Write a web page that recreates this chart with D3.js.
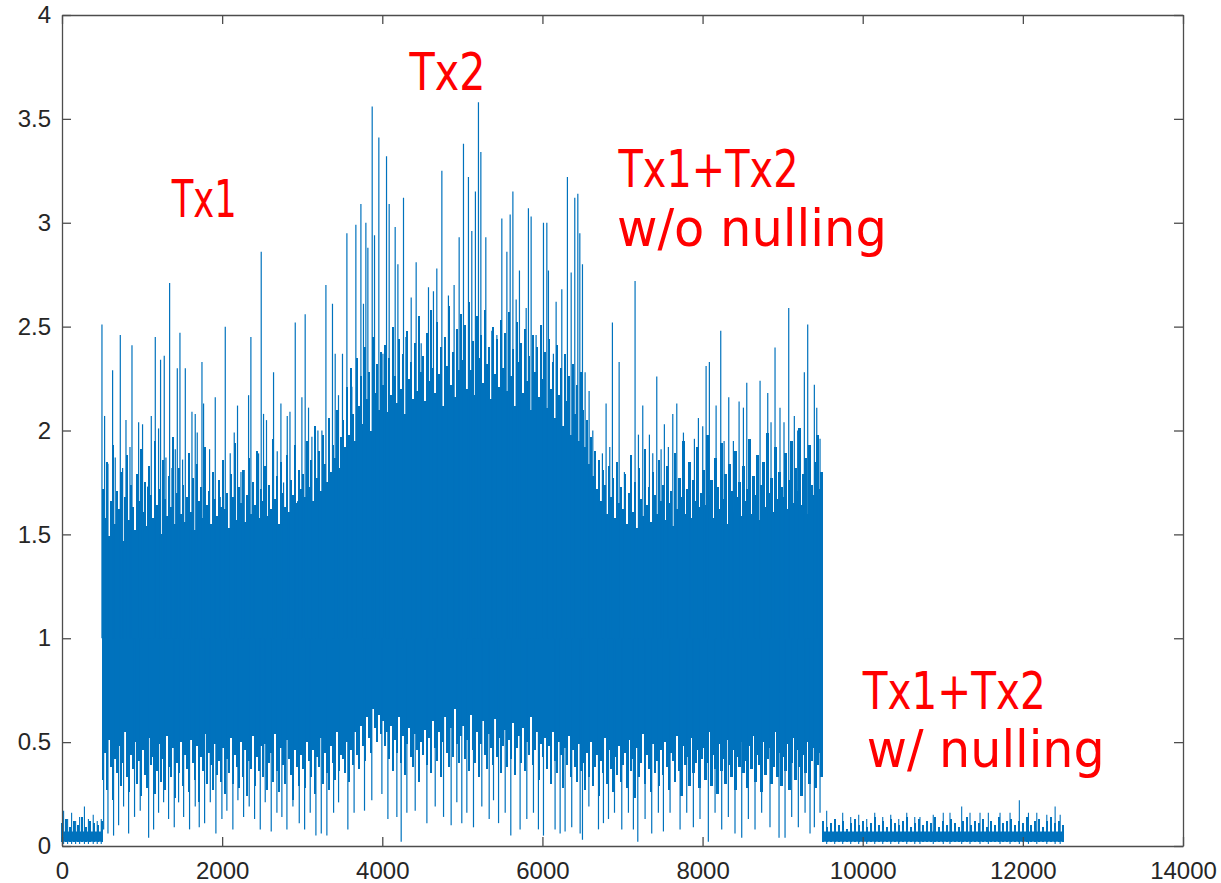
<!DOCTYPE html>
<html>
<head>
<meta charset="utf-8">
<script src="https://cdn.jsdelivr.net/npm/d3@7"></script>
<style>
  body { margin: 0; background: #fff; }
  svg { display: block; }
</style>
</head>
<body>
<div id="chart"></div>
<script>
"use strict";

// tick labels
var xTicks = [0, 2000, 4000, 6000, 8000, 10000, 12000, 14000];
var yTicks = [0, 0.5, 1, 1.5, 2, 2.5, 3, 3.5, 4];

// solid middle of the loud part (sample index, upper / lower edge)
var coreSamples = [500, 1000, 1500, 2000, 2500, 3000, 3500, 4000, 4500, 5000, 5500, 6000, 6500, 7000, 7500, 8000, 8500, 9000, 9500];
var coreTop = [1.35, 1.4, 1.4, 1.35, 1.4, 1.4, 1.5, 1.75, 1.85, 1.85, 1.85, 1.75, 1.5, 1.35, 1.35, 1.35, 1.35, 1.35, 1.35];
var coreBottom = [0.6, 0.6, 0.6, 0.6, 0.6, 0.6, 0.65, 0.7, 0.7, 0.7, 0.7, 0.65, 0.6, 0.6, 0.6, 0.6, 0.6, 0.6, 0.6];

// quiet parts (before 500 and after 9500)
var quietSamples = [0, 500, 9500, 12500];
var quietTop = [0.07, 0.07, 0.07, 0.07];
var quietBottom = [0.02, 0.02, 0.02, 0.02];
// quiet envelope, one column every 50 samples
var quietColsA = [0.11,0.13,0.09,0.12,0.10,0.14,0.09,0.12,0.11,0.10,0.12];
var quietColsB = [
  0.12,0.09,0.11,0.13,0.10,0.12,0.08,0.11,0.13,0.10,
  0.12,0.09,0.11,0.14,0.10,0.12,0.09,0.13,0.11,0.10,
  0.12,0.14,0.09,0.11,0.13,0.10,0.12,0.11,0.14,0.09,
  0.12,0.10,0.13,0.11,0.09,0.12,0.14,0.10,0.12,0.11,
  0.13,0.09,0.12,0.10,0.14,0.11,0.12,0.13,0.10,0.12,
  0.11,0.14,0.10,0.12,0.13,0.09,0.12,0.14,0.11,0.12,0.10
];

// dense envelope of the loud part: one column every 25 samples from 510 on
var colStart = 510, colStep = 25;
var colHigh = [
  1.72,1.58,1.85,1.49,1.66,1.93,1.55,1.71,1.62,1.80,1.47,1.68,1.88,1.57,1.74,1.63,1.52,1.79,1.66,1.91,
  1.61,1.75,1.54,1.83,1.69,1.58,1.95,1.64,1.72,1.50,1.86,1.67,1.59,1.78,1.63,1.97,1.55,1.70,1.82,1.60,
  1.74,1.56,1.68,1.89,1.61,1.77,1.52,1.84,1.66,1.73,1.58,1.92,1.64,1.71,1.55,1.80,1.67,1.59,1.76,1.63,
  1.86,1.62,1.70,1.53,1.79,1.68,1.94,1.57,1.73,1.65,1.81,1.56,1.69,1.87,1.60,1.75,1.64,1.90,1.58,1.72,
  1.66,1.83,1.59,1.74,1.62,1.96,1.67,1.78,1.55,1.85,1.70,1.63,1.88,1.61,1.76,1.69,1.93,1.65,1.81,1.72,
  1.79,1.68,1.95,1.73,1.86,1.66,2.02,1.77,1.90,1.71,1.98,1.84,1.75,2.06,1.80,1.93,1.87,2.10,1.82,1.97,
  2.05,1.92,2.21,1.98,2.30,2.08,1.95,2.35,2.12,2.26,2.03,2.40,2.15,2.28,2.00,2.45,2.18,2.32,2.10,2.38,
  2.22,2.41,2.09,2.35,2.17,2.50,2.26,2.13,2.44,2.20,2.37,2.08,2.48,2.25,2.33,2.15,2.42,2.19,2.55,2.28,
  2.36,2.14,2.47,2.24,2.58,2.30,2.18,2.52,2.27,2.40,2.12,2.45,2.31,2.60,2.22,2.38,2.16,2.49,2.29,2.56,
  2.34,2.51,2.20,2.62,2.29,2.43,2.17,2.55,2.35,2.46,2.23,2.58,2.32,2.40,2.15,2.50,2.27,2.44,2.21,2.53,
  2.30,2.47,2.19,2.57,2.26,2.39,2.12,2.52,2.33,2.42,2.18,2.49,2.24,2.36,2.10,2.46,2.28,2.40,2.16,2.51,
  2.25,2.38,2.11,2.44,2.20,2.33,2.06,2.41,2.17,2.30,2.02,2.37,2.14,2.26,1.98,2.32,2.08,2.22,1.95,2.28,
  2.10,1.92,2.05,1.84,1.97,1.78,1.90,1.72,1.86,1.66,1.81,1.74,1.60,1.83,1.68,1.77,1.58,1.85,1.65,1.73,
  1.62,1.79,1.55,1.70,1.88,1.61,1.75,1.53,1.82,1.67,1.59,1.91,1.64,1.73,1.56,1.80,1.69,1.60,1.86,1.66,
  1.74,1.57,1.83,1.65,1.71,1.54,1.89,1.62,1.77,1.68,1.95,1.60,1.72,1.85,1.58,1.76,1.66,1.92,1.63,1.70,
  1.81,1.64,1.98,1.69,1.76,1.58,1.87,1.73,1.62,1.94,1.67,1.79,1.55,1.84,1.71,1.61,1.90,1.68,1.75,1.59,
  1.83,1.66,1.72,1.96,1.60,1.78,1.69,1.88,1.57,1.74,1.85,1.63,1.99,1.70,1.77,1.61,1.92,1.67,1.80,1.73,
  1.68,1.89,1.62,1.76,1.95,1.65,1.82,1.71,2.01,1.64,1.79,1.87,1.60,1.93,1.74,1.69,1.85,1.98,1.72,1.80
];
var colLow = [
  0.32,0.45,0.27,0.51,0.38,0.22,0.42,0.35,0.48,0.29,0.40,0.55,0.33,0.26,0.44,0.37,0.50,0.30,0.41,0.24,
  0.46,0.34,0.28,0.52,0.39,0.43,0.25,0.36,0.49,0.31,0.42,0.27,0.53,0.38,0.33,0.47,0.23,0.40,0.35,0.50,
  0.29,0.44,0.37,0.26,0.51,0.40,0.32,0.48,0.21,0.43,0.36,0.54,0.30,0.45,0.39,0.27,0.49,0.34,0.41,0.31,
  0.47,0.25,0.42,0.35,0.52,0.30,0.44,0.38,0.28,0.50,0.33,0.46,0.24,0.41,0.37,0.53,0.29,0.43,0.36,0.48,
  0.33,0.49,0.27,0.40,0.45,0.31,0.54,0.36,0.26,0.47,0.39,0.30,0.51,0.42,0.34,0.22,0.46,0.38,0.29,0.44,
  0.37,0.28,0.50,0.41,0.33,0.46,0.25,0.43,0.38,0.52,0.30,0.45,0.35,0.27,0.48,0.40,0.32,0.55,0.36,0.44,
  0.42,0.35,0.50,0.31,0.46,0.39,0.55,0.44,0.37,0.58,0.48,0.41,0.62,0.52,0.45,0.66,0.57,0.50,0.63,0.54,
  0.60,0.48,0.55,0.42,0.58,0.36,0.51,0.45,0.62,0.40,0.53,0.34,0.49,0.57,0.43,0.38,0.54,0.46,0.31,0.50,
  0.44,0.56,0.39,0.52,0.35,0.60,0.47,0.41,0.55,0.33,0.50,0.62,0.45,0.38,0.57,0.43,0.66,0.49,0.40,0.53,
  0.58,0.42,0.51,0.36,0.63,0.46,0.40,0.55,0.33,0.49,0.60,0.44,0.37,0.54,0.47,0.39,0.61,0.43,0.52,0.35,
  0.48,0.56,0.38,0.51,0.42,0.59,0.34,0.47,0.53,0.40,0.57,0.36,0.50,0.44,0.62,0.39,0.46,0.55,0.32,0.49,
  0.43,0.52,0.37,0.48,0.30,0.55,0.41,0.35,0.50,0.44,0.28,0.47,0.39,0.53,0.33,0.46,0.38,0.31,0.49,0.36,
  0.40,0.27,0.45,0.33,0.50,0.29,0.38,0.44,0.24,0.41,0.35,0.52,0.30,0.46,0.37,0.26,0.43,0.34,0.48,0.31,
  0.39,0.45,0.28,0.51,0.36,0.42,0.23,0.47,0.33,0.40,0.54,0.30,0.44,0.37,0.26,0.49,0.35,0.41,0.29,0.46,
  0.34,0.50,0.38,0.27,0.45,0.41,0.31,0.53,0.36,0.24,0.48,0.39,0.43,0.29,0.52,0.35,0.40,0.46,0.28,0.42,
  0.47,0.32,0.40,0.55,0.29,0.44,0.37,0.25,0.49,0.36,0.42,0.30,0.51,0.39,0.33,0.46,0.27,0.43,0.38,0.50,
  0.35,0.41,0.28,0.48,0.37,0.53,0.31,0.44,0.39,0.26,0.50,0.34,0.42,0.47,0.30,0.38,0.55,0.33,0.45,0.29,
  0.43,0.36,0.49,0.27,0.40,0.52,0.32,0.46,0.38,0.24,0.44,0.35,0.50,0.30,0.41,0.47,0.28,0.39,0.45,0.33
];

// tall upward spikes [sample, value]
var peaks = [[499,2.51],[532,2.07],[574,1.84],[632,2.29],[665,1.87],[728,2.46],[757,1.82],[799,2.05],[849,1.92],[874,2.41],[957,2.04],[1006,2.03],[1069,1.73],[1115,2.07],[1165,2.45],[1206,2.01],[1231,2.34],[1277,2.36],[1298,1.87],[1344,2.71],[1373,1.82],[1415,1.91],[1440,2.30],[1473,2.47],[1506,1.86],[1540,2.30],[1589,1.87],[1623,2.09],[1664,2.08],[1689,1.99],[1748,2.33],[1768,2.13],[1843,1.91],[1914,2.16],[1976,1.68],[2039,2.50],[2101,1.89],[2151,1.99],[2192,2.12],[2235,1.80],[2276,1.81],[2330,2.17],[2359,2.45],[2401,1.61],[2455,1.89],[2488,2.86],[2517,2.08],[2554,2.05],[2642,2.28],[2688,1.90],[2734,2.13],[2767,1.75],[2813,2.07],[2847,2.09],[2913,2.52],[2942,1.66],[2996,2.16],[3037,2.56],[3079,2.11],[3121,1.97],[3196,2.00],[3246,2.00],[3296,2.70],[3378,2.61],[3412,2.37],[3453,2.17],[3503,2.37],[3558,2.95],[3620,2.21],[3670,2.99],[3733,3.09],[3765,2.61],[3795,3.00],[3820,2.88],[3874,3.56],[3903,2.94],[3957,3.41],[4008,2.37],[4053,3.32],[4086,3.09],[4161,2.98],[4195,2.80],[4265,3.12],[4295,2.45],[4361,2.64],[4423,2.81],[4486,2.42],[4577,2.69],[4639,2.67],[4681,2.78],[4744,3.25],[4826,2.65],[4897,2.70],[4960,2.93],[5014,3.38],[5076,3.22],[5118,2.96],[5163,3.15],[5201,3.58],[5231,3.34],[5293,2.93],[5368,2.48],[5431,2.46],[5493,3.02],[5556,2.86],[5597,3.04],[5631,3.15],[5672,2.63],[5713,2.77],[5797,2.59],[5825,3.07],[5859,3.03],[5921,2.46],[6013,3.00],[6055,3.00],[6075,2.77],[6137,2.37],[6171,2.62],[6242,2.68],[6312,3.22],[6359,2.76],[6404,3.12],[6442,3.14],[6467,2.95],[6500,2.80],[6533,2.28],[6583,2.19],[6629,2.00],[6667,1.61],[6749,1.89],[6795,2.13],[6841,1.92],[6874,2.52],[6958,2.33],[7024,1.80],[7095,1.60],[7157,2.72],[7199,1.98],[7253,2.12],[7336,1.98],[7378,1.89],[7428,2.26],[7482,1.91],[7523,2.03],[7573,1.92],[7628,2.08],[7678,2.13],[7761,1.99],[7844,1.63],[7898,1.96],[7948,2.06],[8002,2.02],[8044,2.31],[8085,2.33],[8169,2.12],[8227,2.48],[8269,1.95],[8327,2.16],[8385,1.95],[8456,2.14],[8510,2.11],[8552,2.23],[8643,1.72],[8718,2.24],[8814,2.18],[8855,2.04],[8905,2.40],[8967,2.11],[9017,2.04],[9076,2.59],[9146,2.07],[9188,2.00],[9271,2.28],[9313,2.51],[9396,2.22],[9426,2.11],[9467,1.96]];

// deep downward spikes [sample, value]
var dips = [[520,0.08],[574,0.06],[644,0.05],[707,0.10],[769,0.19],[832,0.06],[906,0.14],[977,0.17],[1082,0.04],[1144,0.08],[1206,0.16],[1269,0.21],[1331,0.13],[1402,0.09],[1456,0.21],[1519,0.14],[1593,0.08],[1664,0.19],[1714,0.09],[1781,0.11],[1852,0.21],[1922,0.06],[1997,0.13],[2059,0.17],[2134,0.08],[2197,0.22],[2268,0.14],[2338,0.19],[2405,0.13],[2476,0.08],[2538,0.21],[2613,0.07],[2684,0.16],[2746,0.14],[2809,0.08],[2884,0.19],[2963,0.11],[3030,0.08],[3100,0.16],[3171,0.05],[3238,0.06],[3308,0.05],[3392,0.16],[3454,0.21],[3570,0.08],[3648,0.16],[3778,0.17],[3869,0.22],[3995,0.25],[4070,0.13],[4182,0.14],[4236,0.02],[4307,0.16],[4411,0.17],[4557,0.11],[4661,0.19],[4765,0.14],[4860,0.10],[4931,0.21],[4993,0.11],[5056,0.16],[5139,0.09],[5243,0.19],[5335,0.13],[5389,0.22],[5452,0.11],[5535,0.16],[5605,0.05],[5721,0.08],[5805,0.13],[5888,0.16],[5950,0.08],[6013,0.05],[6158,0.08],[6221,0.06],[6283,0.07],[6366,0.09],[6471,0.06],[6500,0.03],[6580,0.19],[6700,0.08],[6762,0.11],[6825,0.13],[6900,0.16],[6991,0.08],[7074,0.16],[7136,0.08],[7191,0.02],[7282,0.13],[7365,0.06],[7448,0.16],[7511,0.07],[7594,0.16],[7719,0.08],[7802,0.16],[7885,0.09],[7968,0.13],[8072,0.02],[8156,0.16],[8239,0.08],[8322,0.14],[8405,0.06],[8489,0.04],[8572,0.13],[8655,0.08],[8738,0.16],[8842,0.09],[8955,0.04],[9030,0.04],[9113,0.14],[9196,0.09],[9280,0.16],[9342,0.06],[9396,0.09],[9467,0.16]];

// small spikes in the quiet parts [sample, value]
var quietPeaks = [[20,0.17],[70,0.13],[120,0.16],[170,0.12],[220,0.14],[280,0.19],[330,0.13],[390,0.15],[440,0.12],[490,0.13],[9550,0.17],[9650,0.13],[9750,0.16],[9850,0.14],[9950,0.15],[10050,0.13],[10150,0.16],[10250,0.14],[10350,0.15],[10450,0.13],[10550,0.16],[10650,0.14],[10715,0.14],[10881,0.15],[11006,0.16],[11090,0.16],[11236,0.19],[11340,0.16],[11465,0.16],[11569,0.16],[11715,0.16],[11840,0.16],[11956,0.22],[12070,0.16],[12174,0.16],[12299,0.15],[12403,0.19],[12466,0.15]];

// annotations
var labels = ["Tx1", "Tx2", "Tx1+Tx2", "w/o nulling", "Tx1+Tx2", "w/ nulling"];
var labelAt = [[1370, 3.03], [4340, 3.64], [6950, 3.17], [6930, 2.89], [10000, 0.66], [10050, 0.38]];
var labelWidth = [65, 76, 180, 270, 183, 238];

var width = 1221,
  height = 883;
var margin = { left: 62, right: 38, top: 15, bottom: 37 };
var lineColor = "#0072bd";

var svg = d3
  .select("#chart")
  .append("svg")
  .attr("width", width)
  .attr("height", height);

var x = d3.scaleLinear().domain([0, 14000]).range([margin.left, width - margin.right]);
var y = d3.scaleLinear().domain([0, 4]).range([height - margin.bottom, margin.top]);

// solid middle
var area = d3
  .area()
  .x(function(d) { return x(d.s); })
  .y0(function(d) { return y(d.lo); })
  .y1(function(d) { return y(d.hi); });

var core = coreSamples.map(function(s, i) {
  return { s: s, lo: coreBottom[i], hi: coreTop[i] };
});
var quietA = quietSamples.slice(0, 2).map(function(s, i) {
  return { s: s, lo: quietBottom[i], hi: quietTop[i] };
});
var quietB = quietSamples.slice(2).map(function(s, i) {
  return { s: s, lo: quietBottom[i + 2], hi: quietTop[i + 2] };
});

svg.append("g").selectAll("path")
  .data([core, quietA, quietB])
  .enter()
  .append("path")
  .attr("d", area)
  .attr("fill", lineColor);

// dense columns
var cols = colHigh.map(function(h, i) {
  return { s: colStart + i * colStep, hi: h, lo: colLow[i], w: 2.3 };
});
quietColsA.forEach(function(h, i) {
  cols.push({ s: i * 50, hi: h, lo: 0.02, w: 2.2 });
});
quietColsB.forEach(function(h, i) {
  cols.push({ s: 9500 + i * 50, hi: h, lo: 0.02, w: 2.2 });
});

svg.append("g")
  .attr("shape-rendering", "crispEdges")
  .selectAll("line")
  .data(cols)
  .enter()
  .append("line")
  .attr("stroke", lineColor)
  .attr("stroke-width", function(d) { return d.w; })
  .attr("x1", function(d) { return x(d.s); })
  .attr("x2", function(d) { return x(d.s); })
  .attr("y1", function(d) { return y(d.lo); })
  .attr("y2", function(d) { return y(d.hi); });

// spikes
var spikes = svg.append("g").attr("stroke", lineColor).attr("stroke-width", 1.2);

spikes.selectAll("line.peak")
  .data(peaks)
  .enter()
  .append("line")
  .attr("class", "peak")
  .attr("x1", function(d) { return x(d[0]); })
  .attr("x2", function(d) { return x(d[0]); })
  .attr("y1", y(1))
  .attr("y2", function(d) { return y(d[1]); });

spikes.selectAll("line.dip")
  .data(dips)
  .enter()
  .append("line")
  .attr("class", "dip")
  .attr("x1", function(d) { return x(d[0]); })
  .attr("x2", function(d) { return x(d[0]); })
  .attr("y1", y(1))
  .attr("y2", function(d) { return y(d[1]); });

spikes.selectAll("line.quiet")
  .data(quietPeaks)
  .enter()
  .append("line")
  .attr("class", "quiet")
  .attr("stroke-width", 1.1)
  .attr("x1", function(d) { return x(d[0]); })
  .attr("x2", function(d) { return x(d[0]); })
  .attr("y1", y(0.01))
  .attr("y2", function(d) { return y(d[1]); });

// axes, matlab style box with inward ticks
var fmt = function(d) { return String(d); };
var axisColor = "#262626";

function styleAxis(g) {
  g.selectAll("path").attr("stroke", "#4d4d4d").attr("stroke-width", 1.3);
  g.selectAll("line").attr("stroke", "#4d4d4d").attr("stroke-width", 1.3);
  g.selectAll("text")
    .attr("fill", axisColor)
    .style("font-family", "'Liberation Sans', Arial, Helvetica, sans-serif")
    .style("font-size", "24px");
}

svg.append("g")
  .attr("transform", "translate(0," + y(0) + ")")
  .call(d3.axisBottom(x).tickValues(xTicks).tickFormat(fmt).tickSize(-9).tickSizeOuter(0).tickPadding(16))
  .call(styleAxis);

svg.append("g")
  .attr("transform", "translate(0," + y(4) + ")")
  .call(d3.axisTop(x).tickValues(xTicks).tickFormat("").tickSize(-9).tickSizeOuter(0))
  .call(styleAxis);

svg.append("g")
  .attr("transform", "translate(" + x(0) + ",0)")
  .call(d3.axisLeft(y).tickValues(yTicks).tickFormat(fmt).tickSize(-9).tickSizeOuter(0).tickPadding(11))
  .call(styleAxis);

svg.append("g")
  .attr("transform", "translate(" + x(14000) + ",0)")
  .call(d3.axisRight(y).tickValues(yTicks).tickFormat("").tickSize(-9).tickSizeOuter(0))
  .call(styleAxis);

svg.selectAll(".domain").attr("fill", "none");

// red annotations
svg.append("g").selectAll("text")
  .data(labels)
  .enter()
  .append("text")
  .attr("x", function(d, i) { return x(labelAt[i][0]); })
  .attr("y", function(d, i) { return y(labelAt[i][1]); })
  .attr("textLength", function(d, i) { return labelWidth[i]; })
  .attr("lengthAdjust", "spacingAndGlyphs")
  .attr("fill", "#ff0000")
  .style("font-family", "'DejaVu Sans', sans-serif")
  .style("font-size", "51px")
  .text(function(d) { return d; });
</script>
</body>
</html>
